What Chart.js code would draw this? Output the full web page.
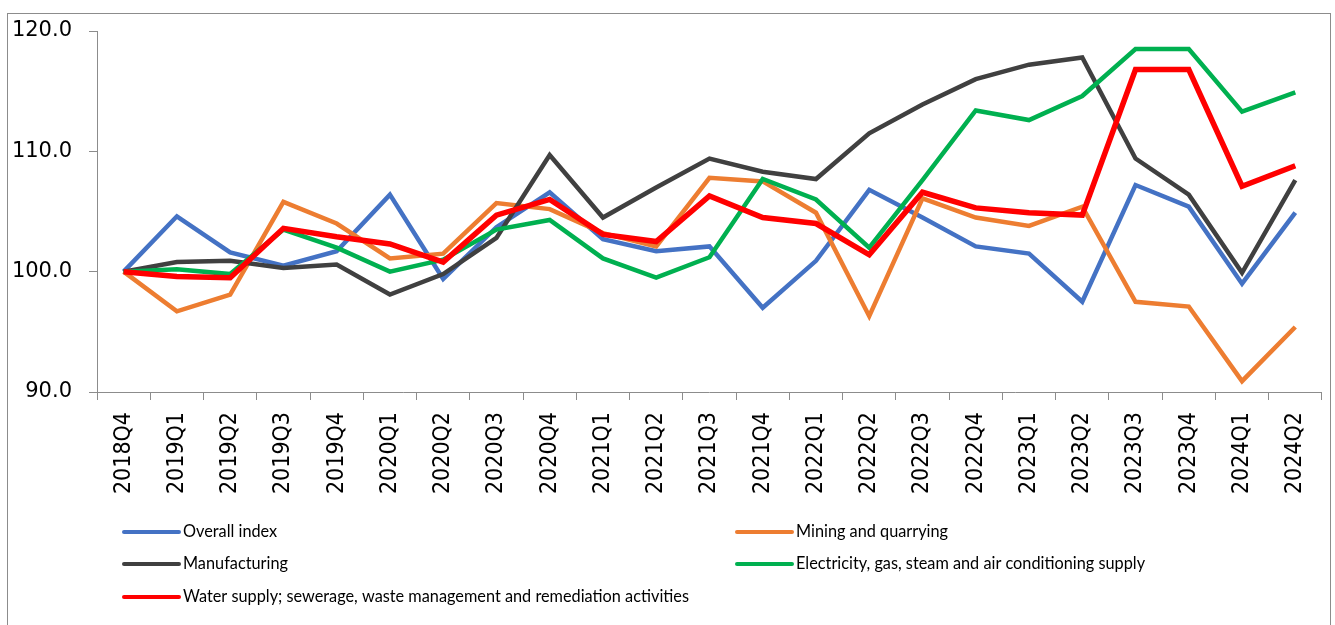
<!DOCTYPE html>
<html>
<head>
<meta charset="utf-8">
<script src="https://cdn.jsdelivr.net/npm/chart.js@4/dist/chart.umd.min.js"></script>
<style>
  body { margin: 0; background: #fff; }
  #wrap { width: 1335px; height: 625px; }
</style>
</head>
<body>
<div id="wrap"><canvas id="lineChart" width="1335" height="625"></canvas></div>
<script>
// quarters on the x axis
const quarters = ['2018Q4', '2019Q1', '2019Q2', '2019Q3', '2019Q4', '2020Q1', '2020Q2', '2020Q3',
  '2020Q4', '2021Q1', '2021Q2', '2021Q3', '2021Q4', '2022Q1', '2022Q2', '2022Q3', '2022Q4',
  '2023Q1', '2023Q2', '2023Q3', '2023Q4', '2024Q1', '2024Q2'];

// index values (2018Q4 = 100)
const overallIndex = [100.0, 104.6, 101.6, 100.5, 101.7, 106.4, 99.4, 103.7, 106.6, 102.7, 101.7, 102.1,
  97.0, 100.9, 106.8, 104.5, 102.1, 101.5, 97.5, 107.2, 105.4, 99.0, 104.9];
const mining = [100.0, 96.7, 98.1, 105.8, 104.0, 101.1, 101.5, 105.7, 105.2, 103.2, 102.1, 107.8,
  107.5, 104.9, 96.3, 106.1, 104.5, 103.8, 105.4, 97.5, 97.1, 90.9, 95.4];
const manufacturing = [100.0, 100.8, 100.9, 100.3, 100.6, 98.1, 99.8, 102.8, 109.7, 104.5, 107.0, 109.4,
  108.3, 107.7, 111.5, 113.9, 116.0, 117.2, 117.8, 109.4, 106.4, 99.9, 107.6];
const electricity = [100.0, 100.2, 99.8, 103.5, 102.0, 100.0, 101.0, 103.5, 104.3, 101.1, 99.5, 101.2,
  107.7, 106.0, 102.0, 107.6, 113.4, 112.6, 114.6, 118.5, 118.5, 113.3, 114.9];
const waterSupply = [100.0, 99.6, 99.5, 103.6, 102.9, 102.3, 100.8, 104.7, 106.0, 103.1, 102.5, 106.3,
  104.5, 104.0, 101.4, 106.6, 105.3, 104.9, 104.7, 116.8, 116.8, 107.1, 108.8];

const yTicks = [90, 100, 110, 120];

const axisColor = '#8c8c8c';

function serie(label, values, color, width, order) {
  return {
    label: label,
    data: values,
    borderColor: color,
    backgroundColor: color,
    borderWidth: width,
    pointRadius: 0,
    tension: 0,
    fill: false,
    order: order
  };
}

// legend drawn by hand: two columns like the original
const gridLegend = {
  id: 'gridLegend',
  afterDraw: function (chart) {
    const ctx = chart.ctx;
    const cols = [124, 737];
    const rows = [532, 564, 597];
    ctx.save();
    ctx.font = '16.3px Lato';
    ctx.textBaseline = 'middle';
    ctx.textAlign = 'left';
    chart.data.datasets.forEach(function (ds, i) {
      const x = cols[i % 2];
      const y = rows[Math.floor(i / 2)];
      ctx.strokeStyle = ds.borderColor;
      ctx.lineWidth = 4;
      ctx.lineCap = 'round';
      ctx.beginPath();
      ctx.moveTo(x, y);
      ctx.lineTo(x + 55, y);
      ctx.stroke();
      ctx.fillStyle = '#000';
      ctx.fillText(ds.label, x + 59, y);
    });
    ctx.restore();
  }
};

// grey frame around the whole chart
const frame = {
  id: 'frame',
  beforeDraw: function (chart) {
    const ctx = chart.ctx;
    ctx.save();
    ctx.strokeStyle = axisColor;
    ctx.lineWidth = 1;
    ctx.strokeRect(7.5, 13.5, 1323, 640);
    ctx.restore();
  }
};

const ctx = document.getElementById('lineChart').getContext('2d');
const myChart = new Chart(ctx, {
  type: 'line',
  data: {
    labels: quarters,
    datasets: [
      serie('Overall index', overallIndex, '#4472C4', 4.5, 5),
      serie('Mining and quarrying', mining, '#ED7D31', 4.5, 4),
      serie('Manufacturing', manufacturing, '#404040', 4.5, 3),
      serie('Electricity, gas, steam and air conditioning supply', electricity, '#00B050', 4.5, 2),
      serie('Water supply; sewerage, waste management and remediation activities', waterSupply, '#FF0000', 5.5, 1)
    ]
  },
  options: {
    responsive: false,
    animation: false,
    layout: { padding: { top: 31, right: 5, left: 0, bottom: 0 } },
    plugins: {
      legend: { display: false },
      tooltip: { enabled: false }
    },
    scales: {
      x: {
        offset: true,
        grid: { offset: true, drawOnChartArea: false, drawTicks: true, tickLength: 8, color: axisColor },
        border: { display: true, color: axisColor, width: 1 },
        ticks: {
          autoSkip: false,
          maxRotation: 90,
          minRotation: 90,
          padding: 12,
          color: '#000',
          font: { family: "'DejaVu Sans Condensed', 'DejaVu Sans'", size: 23 }
        },
        afterFit: function (scale) { scale.height = 233; }
      },
      y: {
        min: 90,
        max: 120,
        afterBuildTicks: function (scale) {
          scale.ticks = yTicks.map(function (v) { return { value: v }; });
        },
        grid: { drawOnChartArea: false, drawTicks: true, tickLength: 8, color: axisColor },
        border: { display: true, color: axisColor, width: 1 },
        ticks: {
          padding: 17,
          color: '#000',
          font: { family: "'DejaVu Sans'", size: 21 },
          callback: function (v) { return Number(v).toFixed(1); }
        },
        afterFit: function (scale) { scale.width = 97; }
      }
    }
  },
  plugins: [frame, gridLegend]
});
</script>
</body>
</html>
